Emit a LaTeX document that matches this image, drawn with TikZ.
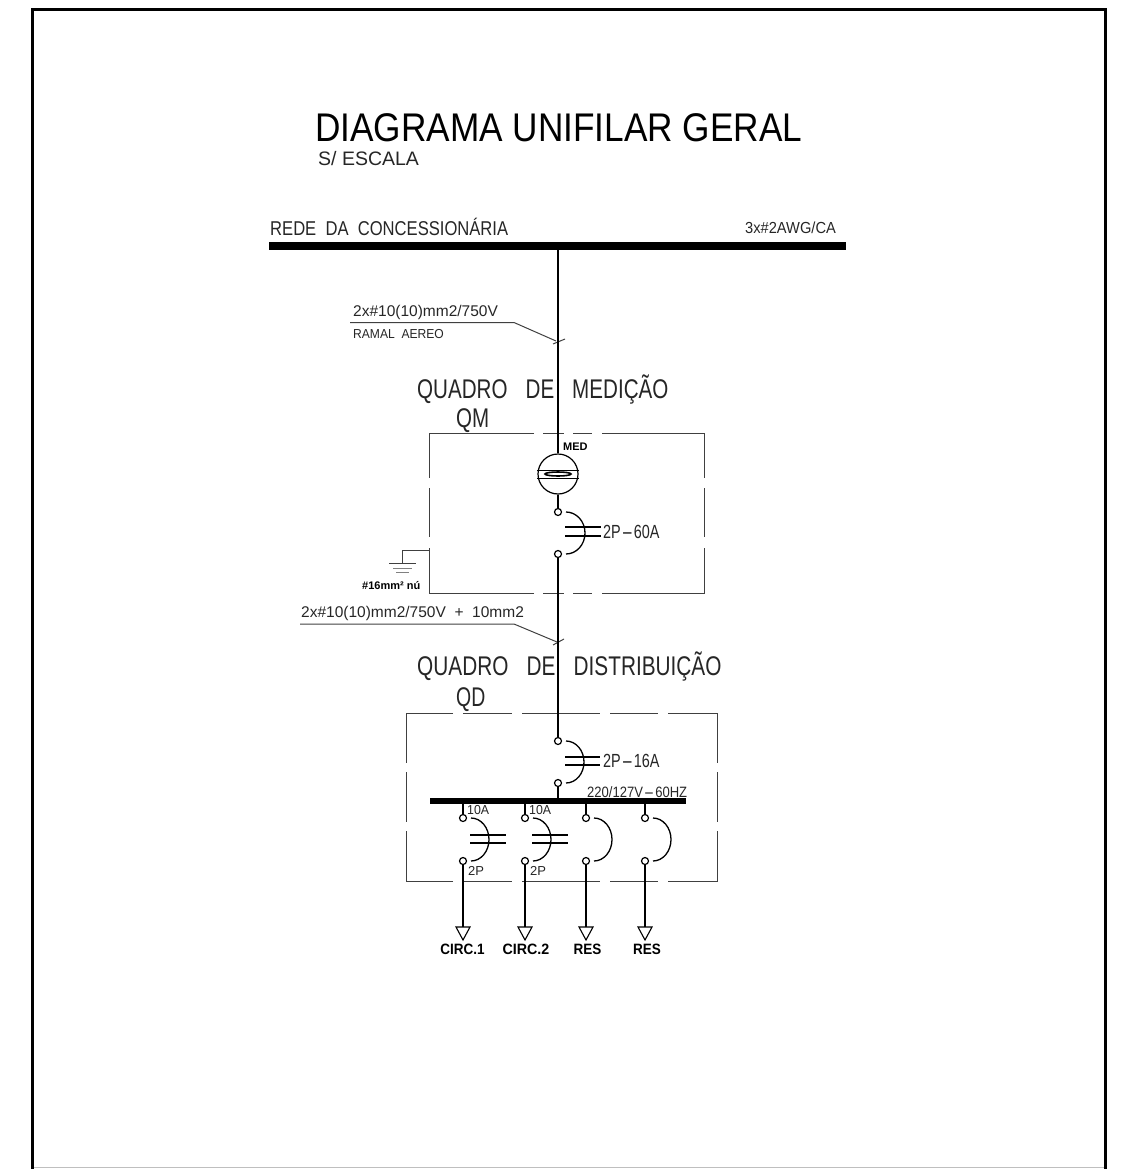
\documentclass[tikz,border=0pt]{standalone}
\usepackage{graphicx}
\usepackage{fontspec}
\setmainfont{Liberation Sans}
\newcommand{\fs}[1]{\fontsize{#1}{#1}\selectfont}
\newcommand{\largo}[2]{\scalebox{#1}[1]{#2}}
\newcommand{\traco}{\hspace{1pt}\scalebox{2.4}[1]{-}\hspace{1pt}}

\begin{document}
\begin{tikzpicture}[x=1pt,y=-1pt,
  thinline/.style={line width=1pt,draw=black!75},
  wire/.style={line width=2.2pt},
  label/.style={anchor=west,inner sep=0,text=black!85},
  terminal/.style={circle,draw,line width=1.2pt,fill=white,inner sep=0,minimum size=7pt},
  chave/.style={line width=1.3pt},
  seta/.style={line width=1.1pt,fill=white}]
\useasboundingbox (0,0) rectangle (1126,1169);
% moldura
\draw[line width=3pt] (32.5,1169) -- (32.5,9.5) -- (1105.5,9.5) -- (1105.5,1169);
\draw[line width=0.8pt,black!25] (34,1167.5) -- (1104,1167.5);
% titulo
\node[label,text=black,font=\fs{40}] (titulo) at (315,128) {\largo{0.88}{DIAGRAMA UNIFILAR GERAL}};
\node[label,font=\fs{19.5}] (escala) at (318,158.5) {S/ ESCALA};
% rede
\node[label,font=\fs{20}] (rede) at (270,227) {\largo{0.83}{REDE\ \ DA\ \ CONCESSIONÁRIA}};
\node[label,font=\fs{16}] (cabo) at (745,228) {\largo{0.916}{3x\#2AWG/CA}};
\coordinate (redeA) at (269,246);
\coordinate (redeB) at (846,246);
\coordinate (redeT) at (558,246);
\draw[line width=8pt] (redeA) -- (redeB);
% ramal
\node[label,font=\fs{15.5}] (ramal) at (353,312) {2x\#10(10)mm2/750V};
\node[label,font=\fs{13}] (aereo) at (353,334) {\largo{0.93}{RAMAL\ \ AEREO}};
\coordinate (ramalA) at (350,322.5);
\coordinate (ramalB) at (514,322.5);
\coordinate (ramalC) at (556,341);
\draw[thinline] (ramalA) -- (ramalB) -- (ramalC);
\draw[thinline] (553,344) -- (565,339);
% quadro de medicao
\node[label,font=\fs{27}] (qmTitulo) at (417,390) {\largo{0.763}{QUADRO\hspace{23.6pt}DE\hspace{23.6pt}MEDIÇÃO}};
\node[label,font=\fs{27}] (qmNome) at (456,421) {\largo{0.76}{QM}};
\draw[thinline] (534,433) -- (429,433) -- (429,478);
\draw[thinline] (543,433) -- (564,433);
\draw[thinline] (573,433) -- (592,433);
\draw[thinline] (602,433) -- (704,433) -- (704,478);
\draw[thinline] (429,488) -- (429,537);
\draw[thinline] (704,488) -- (704,537);
\draw[thinline] (534,593) -- (429,593) -- (429,548);
\draw[thinline] (543,593) -- (564,593);
\draw[thinline] (573,593) -- (592,593);
\draw[thinline] (602,593) -- (704,593) -- (704,548);
% medidor
\node[circle,draw,line width=1.2pt,inner sep=0,minimum size=40pt] (med) at (558,474) {};
\node[label,text=black,font=\bfseries\fs{11}] (medLabel) at (563,447) {MED};
\draw[line width=1pt] (med.west |- 0,470) -- (med.east |- 0,470);
\draw[line width=1pt] (med.west |- 0,478) -- (med.east |- 0,478);
\draw[line width=1.6pt] (558,474) ellipse[x radius=13,y radius=2];
\draw[wire] (redeT) -- (med.north);
% disjuntor geral
\node[terminal] (qmA) at (558,512) {};
\node[terminal] (qmB) at (558,554) {};
\draw[wire] (med.south) -- (qmA.north);
\draw[chave] (566,512) arc[start angle=-90,end angle=90,x radius=19,y radius=21];
\draw[wire] (565,527) -- (601,527);
\draw[wire] (565,536) -- (601,536);
\node[label,font=\fs{19}] (qmDisj) at (603,532) {\largo{0.76}{2P\traco60A}};
% terra
\coordinate (terraA) at (429,550);
\coordinate (terraB) at (402,550);
\coordinate (terraC) at (402,563);
\draw[thinline] (terraA) -- (terraB) -- (terraC);
\draw[thinline] (389,563) -- (416,563);
\draw[thinline,black!50] (393,568) -- (412,568);
\draw[thinline,black!50] (396,572) -- (409,572);
\node[label,text=black,font=\bfseries\fs{11}] (terraLabel) at (362,586) {\#16mm² nú};
% alimentador
\node[label,font=\fs{15.5}] (alim) at (301,613) {2x\#10(10)mm2/750V\ \ +\ \ 10mm2};
\coordinate (alimA) at (300,624);
\coordinate (alimB) at (514,624);
\coordinate (alimC) at (557,642);
\draw[thinline] (alimA) -- (alimB) -- (alimC);
\draw[thinline] (553,645) -- (564,639);
% quadro de distribuicao
\node[label,font=\fs{27}] (qdTitulo) at (417,667) {\largo{0.77}{QUADRO\hspace{23.6pt}DE\hspace{23.6pt}DISTRIBUIÇÃO}};
\node[label,font=\fs{27}] (qdNome) at (456,699.5) {\largo{0.72}{QD}};
\draw[thinline] (453,713) -- (406,713) -- (406,763);
\draw[thinline] (463,713) -- (512,713);
\draw[thinline] (522,713) -- (600,713);
\draw[thinline] (610,713) -- (658,713);
\draw[thinline] (668,713) -- (717,713) -- (717,763);
\draw[thinline] (406,772) -- (406,822);
\draw[thinline] (717,772) -- (717,822);
\draw[thinline] (453,881) -- (406,881) -- (406,831);
\draw[thinline] (463,881) -- (512,881);
\draw[thinline] (522,881) -- (600,881);
\draw[thinline] (610,881) -- (658,881);
\draw[thinline] (668,881) -- (717,881) -- (717,831);
% disjuntor do qd
\node[terminal] (qdA) at (558,741) {};
\node[terminal] (qdB) at (558,783) {};
\draw[wire] (qmB.south) -- (qdA.north);
\draw[chave] (566,741) arc[start angle=-90,end angle=90,x radius=18,y radius=21];
\draw[wire] (565,757) -- (600,757);
\draw[wire] (565,765) -- (600,765);
\node[label,font=\fs{19}] (qdDisj) at (603,761) {\largo{0.76}{2P\traco16A}};
% barramento
\coordinate (barraA) at (430,801);
\coordinate (barraB) at (686,801);
\coordinate (barraQ) at (558,801);
\coordinate (barra1) at (463,801);
\coordinate (barra2) at (525,801);
\coordinate (barra3) at (586,801);
\coordinate (barra4) at (645,801);
\draw[line width=5.5pt] (barraA) -- (barraB);
\draw[wire] (qdB.south) -- (barraQ);
\node[label,font=\fs{15}] (tensao) at (587,792) {\largo{0.87}{220/127V\traco60HZ}};
% circuitos
\node[terminal] (c1A) at (463,818) {};
\node[terminal] (c1B) at (463,861) {};
\node[terminal] (c2A) at (525,818) {};
\node[terminal] (c2B) at (525,861) {};
\node[terminal] (c3A) at (586,818) {};
\node[terminal] (c3B) at (586,861) {};
\node[terminal] (c4A) at (645,818) {};
\node[terminal] (c4B) at (645,861) {};
\draw[wire] (barra1) -- (c1A.north);
\draw[wire] (barra2) -- (c2A.north);
\draw[wire] (barra3) -- (c3A.north);
\draw[wire] (barra4) -- (c4A.north);
\draw[chave] (471,818) arc[start angle=-90,end angle=90,x radius=18,y radius=21.5];
\draw[chave] (533,818) arc[start angle=-90,end angle=90,x radius=18,y radius=21.5];
\draw[chave] (594,818) arc[start angle=-90,end angle=90,x radius=18,y radius=21.5];
\draw[chave] (653,818) arc[start angle=-90,end angle=90,x radius=18,y radius=21.5];
\draw[wire] (470,835) -- (505.5,835);
\draw[wire] (470,843) -- (505.5,843);
\draw[wire] (532,835) -- (568,835);
\draw[wire] (532,843) -- (568,843);
\node[label,font=\fs{13}] (c1In) at (467,810) {\largo{0.95}{10A}};
\node[label,font=\fs{13}] (c2In) at (529,810) {\largo{0.95}{10A}};
\node[label,font=\fs{13}] (c1P) at (468,871) {2P};
\node[label,font=\fs{13}] (c2P) at (530,871) {2P};
% saidas
\coordinate (s1) at (463,927);
\coordinate (s2) at (525,927);
\coordinate (s3) at (586,927);
\coordinate (s4) at (645,927);
\draw[wire] (c1B.south) -- (s1);
\draw[wire] (c2B.south) -- (s2);
\draw[wire] (c3B.south) -- (s3);
\draw[wire] (c4B.south) -- (s4);
\draw[seta] (456,927) -- (470,927) -- (463,940) -- cycle;
\draw[seta] (518,927) -- (532,927) -- (525,940) -- cycle;
\draw[seta] (579,927) -- (593,927) -- (586,940) -- cycle;
\draw[seta] (638,927) -- (652,927) -- (645,940) -- cycle;
\node[label,anchor=center,text=black,font=\bfseries\fs{15}] (c1Nome) at (462.5,949) {\largo{0.9}{CIRC.1}};
\node[label,anchor=center,text=black,font=\bfseries\fs{15}] (c2Nome) at (526,949) {\largo{0.95}{CIRC.2}};
\node[label,anchor=center,text=black,font=\bfseries\fs{15}] (c3Nome) at (587.5,949) {\largo{0.9}{RES}};
\node[label,anchor=center,text=black,font=\bfseries\fs{15}] (c4Nome) at (647,949) {\largo{0.9}{RES}};
\end{tikzpicture}
\end{document}
